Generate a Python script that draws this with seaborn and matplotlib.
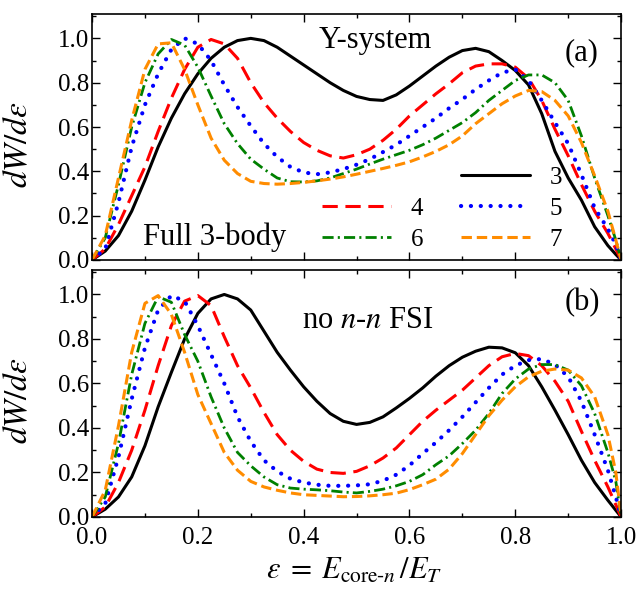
import matplotlib
matplotlib.use('Agg')
import matplotlib.pyplot as plt
from matplotlib.lines import Line2D
from matplotlib.ticker import MultipleLocator, FormatStrFormatter
import pandas as pd
import seaborn as sns

# energy fraction eps = E_core-n / E_T
eps = [0.0, 0.025, 0.05, 0.075, 0.1, 0.125, 0.15, 0.175, 0.2, 0.225,
       0.25, 0.275, 0.3, 0.325, 0.35, 0.375, 0.4, 0.425, 0.45, 0.475,
       0.5, 0.525, 0.55, 0.575, 0.6, 0.625, 0.65, 0.675, 0.7, 0.725,
       0.75, 0.775, 0.8, 0.825, 0.85, 0.875, 0.9, 0.925, 0.95, 0.975,
       0.99, 1.0]

# ---- (a) Y-system, full 3-body ----
full_3 = [0.0, 0.04, 0.11, 0.22, 0.36, 0.51, 0.64, 0.75, 0.84, 0.91,
          0.96, 0.99, 1.0, 0.99, 0.96, 0.92, 0.88, 0.84, 0.80, 0.765,
          0.738, 0.724, 0.72, 0.745, 0.785, 0.83, 0.875, 0.915, 0.945, 0.955,
          0.94, 0.90, 0.855, 0.79, 0.66, 0.49, 0.37, 0.27, 0.15, 0.065,
          0.025, 0.0]
full_4 = [0.0, 0.05, 0.16, 0.29, 0.42, 0.58, 0.73, 0.86, 0.96, 0.995,
          0.975, 0.91, 0.80, 0.71, 0.64, 0.58, 0.53, 0.495, 0.47, 0.46,
          0.475, 0.50, 0.54, 0.59, 0.65, 0.70, 0.75, 0.795, 0.845, 0.875,
          0.885, 0.885, 0.87, 0.82, 0.72, 0.59, 0.47, 0.34, 0.22, 0.12,
          0.05, 0.0]
full_5 = [0.0, 0.05, 0.26, 0.51, 0.70, 0.84, 0.95, 1.0, 0.975, 0.90,
          0.79, 0.69, 0.605, 0.525, 0.465, 0.42, 0.395, 0.387, 0.395, 0.41,
          0.43, 0.455, 0.487, 0.52, 0.56, 0.60, 0.64, 0.685, 0.725, 0.77,
          0.81, 0.845, 0.86, 0.81, 0.72, 0.62, 0.525, 0.385, 0.235, 0.14,
          0.07, 0.0]
full_6 = [0.0, 0.10, 0.34, 0.60, 0.80, 0.93, 0.995, 0.97, 0.87, 0.74,
          0.615, 0.525, 0.455, 0.41, 0.37, 0.353, 0.352, 0.357, 0.37, 0.39,
          0.41, 0.433, 0.455, 0.475, 0.495, 0.52, 0.55, 0.585, 0.62, 0.665,
          0.72, 0.765, 0.81, 0.835, 0.835, 0.80, 0.72, 0.56, 0.37, 0.20,
          0.09, 0.0]
full_7 = [0.0, 0.11, 0.37, 0.63, 0.86, 0.975, 0.98, 0.86, 0.70, 0.55,
          0.45, 0.39, 0.355, 0.345, 0.342, 0.345, 0.35, 0.357, 0.365, 0.375,
          0.387, 0.40, 0.413, 0.427, 0.443, 0.465, 0.49, 0.52, 0.56, 0.615,
          0.66, 0.705, 0.74, 0.765, 0.76, 0.72, 0.65, 0.53, 0.38, 0.22,
          0.09, 0.0]

# ---- (b) no n-n FSI ----
nofsi_3 = [0.0, 0.035, 0.09, 0.18, 0.32, 0.495, 0.65, 0.80, 0.915, 0.98,
           1.0, 0.98, 0.93, 0.835, 0.74, 0.66, 0.585, 0.52, 0.465, 0.43,
           0.416, 0.425, 0.45, 0.49, 0.533, 0.58, 0.633, 0.68, 0.718, 0.745,
           0.763, 0.76, 0.738, 0.68, 0.585, 0.48, 0.37, 0.255, 0.155, 0.075,
           0.03, 0.0]
nofsi_4 = [0.0, 0.045, 0.155, 0.30, 0.48, 0.68, 0.86, 0.97, 0.995, 0.95,
           0.81, 0.68, 0.58, 0.47, 0.37, 0.30, 0.25, 0.215, 0.20, 0.196,
           0.205, 0.23, 0.265, 0.31, 0.37, 0.43, 0.48, 0.525, 0.57, 0.625,
           0.68, 0.72, 0.735, 0.725, 0.68, 0.61, 0.52, 0.385, 0.255, 0.135,
           0.055, 0.0]
nofsi_5 = [0.0, 0.06, 0.27, 0.53, 0.76, 0.93, 0.995, 0.97, 0.86, 0.73,
           0.60, 0.45, 0.34, 0.255, 0.205, 0.172, 0.155, 0.145, 0.14, 0.14,
           0.142, 0.147, 0.163, 0.19, 0.232, 0.285, 0.335, 0.39, 0.45, 0.515,
           0.58, 0.64, 0.68, 0.705, 0.71, 0.685, 0.63, 0.52, 0.37, 0.21,
           0.09, 0.0]
nofsi_6 = [0.0, 0.09, 0.33, 0.64, 0.87, 0.99, 0.965, 0.82, 0.70, 0.54,
           0.40, 0.29, 0.23, 0.18, 0.145, 0.13, 0.125, 0.122, 0.118, 0.112,
           0.108, 0.115, 0.125, 0.14, 0.16, 0.19, 0.235, 0.275, 0.33, 0.39,
           0.465, 0.555, 0.62, 0.665, 0.685, 0.685, 0.66, 0.59, 0.465, 0.29,
           0.16, 0.0]
nofsi_7 = [0.0, 0.12, 0.41, 0.74, 0.96, 0.995, 0.91, 0.74, 0.55, 0.42,
           0.29, 0.21, 0.16, 0.135, 0.12, 0.108, 0.10, 0.097, 0.094, 0.091,
           0.092, 0.095, 0.10, 0.107, 0.123, 0.145, 0.17, 0.215, 0.285, 0.37,
           0.455, 0.525, 0.585, 0.63, 0.655, 0.665, 0.66, 0.625, 0.54, 0.37,
           0.20, 0.0]

sizes = ['3', '4', '5', '6', '7']

df_a = pd.DataFrame({'eps': eps, '3': full_3, '4': full_4, '5': full_5, '6': full_6, '7': full_7})
df_a = df_a.melt(id_vars='eps', var_name='n', value_name='dW')
df_b = pd.DataFrame({'eps': eps, '3': nofsi_3, '4': nofsi_4, '5': nofsi_5, '6': nofsi_6, '7': nofsi_7})
df_b = df_b.melt(id_vars='eps', var_name='n', value_name='dW')

colors = {'3': 'black', '4': '#ff0000', '5': '#0000ff', '6': '#008000', '7': '#ff8c00'}
lstyle = {'3': '-', '4': (0, (11, 5.5)), '5': (0, (0.1, 7.0)),
          '6': (0, (8, 3, 1.5, 3)), '7': (0, (7.5, 3.5))}
lwidth = {'3': 2.2, '4': 2.2, '5': 3.0, '6': 2.0, '7': 2.2}
caps = {'3': 'butt', '4': 'butt', '5': 'round', '6': 'butt', '7': 'butt'}

sns.set_theme(style='ticks', rc={'axes.edgecolor': 'black', 'xtick.color': 'black',
                                 'ytick.color': 'black', 'text.color': 'black',
                                 'axes.labelcolor': 'black'})
plt.rcParams['font.family'] = ['Liberation Serif', 'DejaVu Serif']
plt.rcParams['mathtext.fontset'] = 'stix'
plt.rcParams['lines.scale_dashes'] = False

fig = plt.figure(figsize=(6.39, 5.93), dpi=100)
ax_a = fig.add_axes([0.144, 0.5616, 0.828, 0.4148])
ax_b = fig.add_axes([0.144, 0.1282, 0.828, 0.4165])

for ax, df in [(ax_a, df_a), (ax_b, df_b)]:
  for n in sizes:
    sns.lineplot(data=df[df['n'] == n], x='eps', y='dW', ax=ax, color=colors[n],
                 linestyle=lstyle[n], lw=lwidth[n], dash_capstyle=caps[n])
  ax.set_xlim(0, 1)
  ax.set_ylim(0, 1.11)
  ax.xaxis.set_major_locator(MultipleLocator(0.2))
  ax.xaxis.set_minor_locator(MultipleLocator(0.1))
  ax.yaxis.set_major_locator(MultipleLocator(0.2))
  ax.yaxis.set_minor_locator(MultipleLocator(0.1))
  ax.xaxis.set_major_formatter(FormatStrFormatter('%.1f'))
  ax.yaxis.set_major_formatter(FormatStrFormatter('%.1f'))
  ax.tick_params(which='both', direction='in', top=True, right=True, width=1.0, labelsize=18)
  ax.tick_params(axis='y', pad=2)
  ax.tick_params(axis='x', pad=7)
  ax.tick_params(which='major', length=5.5)
  ax.tick_params(which='minor', length=3)
  for sp in ax.spines.values():
    sp.set_linewidth(1.2)
  ax.set_ylabel(r'$dW/d\varepsilon$', fontsize=24)
  ax.yaxis.set_label_coords(-0.11, 0.47)
  ax.set_xlabel('')

ax_a.tick_params(labelbottom=False)
ax_b.set_xlabel(r'$\varepsilon\;=\;E_{\mathrm{core}\text{-}n}\,/E_{T}$', fontsize=22)
ax_b.xaxis.set_label_coords(0.495, -0.16)

ax_a.text(0.535, 0.955, 'Y-system', fontsize=22, ha='center', va='baseline')
ax_a.text(0.926, 0.90, '(a)', fontsize=22, ha='center', va='baseline')
ax_a.text(0.231, 0.068, 'Full 3-body', fontsize=22, ha='center', va='baseline')
ax_b.text(0.522, 0.849, r'no $n$-$n$ FSI', fontsize=22, ha='center', va='baseline')
ax_b.text(0.926, 0.93, '(b)', fontsize=22, ha='center', va='baseline')

# legend: empty slot first so "3" sits alone top right
lines = dict(zip(sizes, ax_a.get_lines()[:5]))
blank = Line2D([], [], color='none')
ax_a.legend([blank, lines['4'], lines['6'], lines['3'], lines['5'], lines['7']],
            ['', '4', '6', '3', '5', '7'], ncol=2, frameon=False, fontsize=18,
            loc='upper left', bbox_to_anchor=(0.435, 0.38), borderpad=0, borderaxespad=0,
            handlelength=2.75, handletextpad=0.8, columnspacing=1.5, labelspacing=0.33)

plt.savefig('out.png', dpi=100)
